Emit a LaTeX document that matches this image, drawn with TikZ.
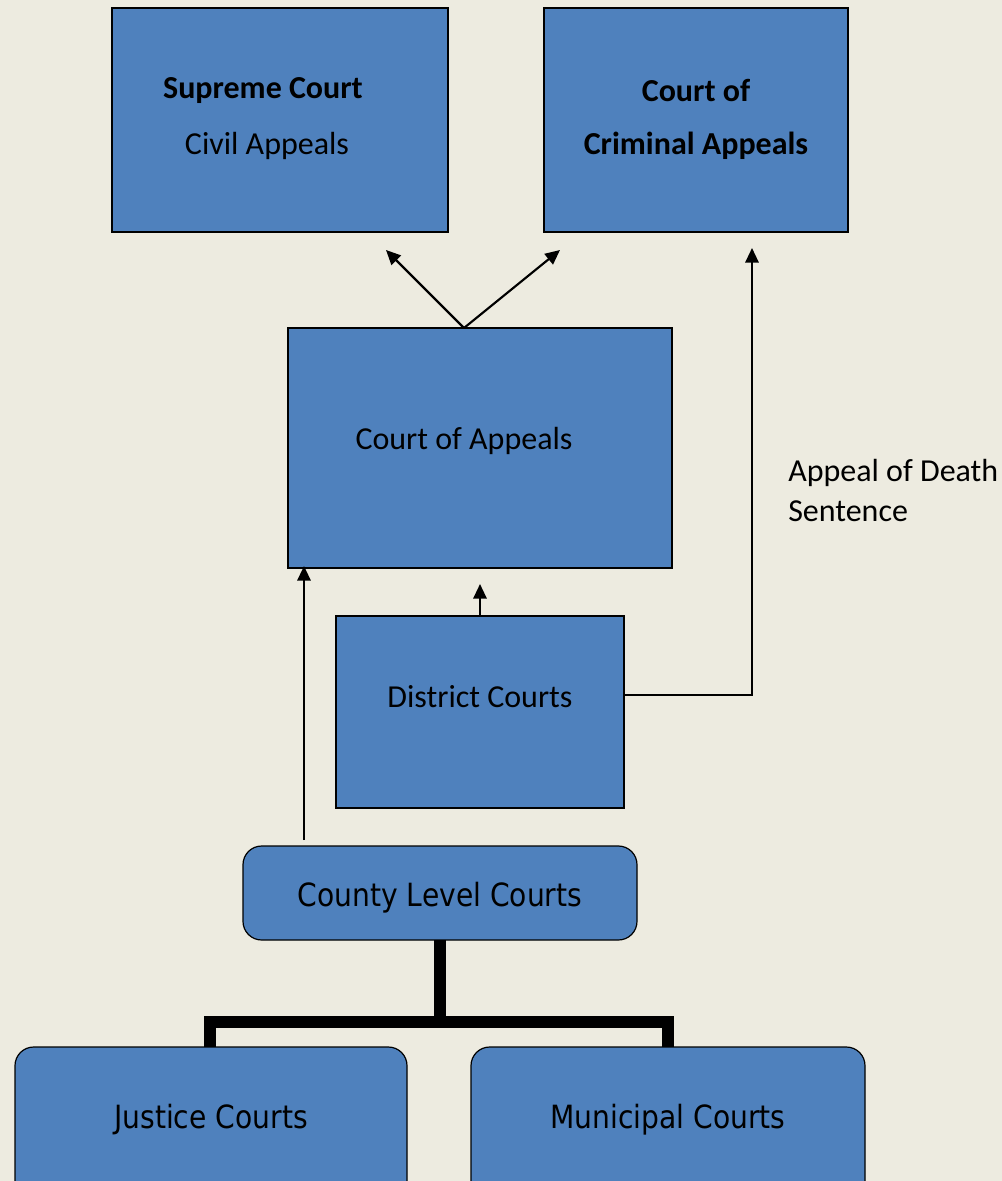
\documentclass[tikz,border=0pt]{standalone}
\usepackage{fontspec}
\setmainfont{Carlito}
\newfontfamily\tah[FakeStretch=0.88]{DejaVu Sans}
\usetikzlibrary{arrows.meta}
\definecolor{bgc}{HTML}{EDEBE0}
\definecolor{boxc}{HTML}{4F81BD}
\tikzset{
  sqbox/.style={draw=black, line width=1.5pt, fill=boxc, inner sep=0pt},
  rbox/.style={draw=black, line width=0.9pt, fill=boxc, rounded corners=14pt, inner sep=0pt},
  arr/.style={line width=1.6pt, -{Triangle[length=11pt,width=10pt]}},
  thick tree/.style={line width=9pt},
  lbl/.style={font=\fontsize{24}{28}\selectfont, inner sep=0pt},
  tlbl/.style={font=\tah\fontsize{24}{28}\selectfont, inner sep=0pt}
}
\begin{document}
\begin{tikzpicture}[x=0.75pt,y=-0.75pt]
\useasboundingbox (0,0) rectangle (1002,1181);
\fill[bgc] (0,0) rectangle (1002,1181);
% boxes
\draw[sqbox] (112,8) rectangle (448,232);
\draw[sqbox] (544,8) rectangle (848,232);
\draw[sqbox] (288,328) rectangle (672,568);
\draw[sqbox] (336,616) rectangle (624,808);
\draw[rbox] (243,846) rectangle (637,940);
\draw[rbox] (15,1047) rectangle (407,1200);
\draw[rbox] (471,1047) rectangle (865,1200);
% texts
\node[lbl] (t1) at (263,91) {\bfseries Supreme Court};
\node[lbl] (t2) at (267,146) {Civil Appeals};
\node[lbl] (t3) at (696,90) {\bfseries Court of};
\node[lbl] (t4) at (696,146) {\bfseries Criminal Appeals};
\node[lbl] (t5) at (464,441) {Court of Appeals};
\node[lbl] (t6) at (480,697) {District Courts};
\node[tlbl] (t7) at (440,898) {County Level Courts};
\node[tlbl] (t8) at (211,1120) {Justice Courts};
\node[tlbl] (t9) at (668,1120) {Municipal Courts};
\node[lbl, anchor=west] (d1) at (788,473) {Appeal of Death};
\node[lbl, anchor=west] (d2) at (788,511) {Sentence};
% connectors
\coordinate (ca) at (464,328);
\coordinate (a1) at (386,250);
\coordinate (a2) at (560,250);
\draw[arr] (ca) -- (a1);
\draw[arr] (ca) -- (a2);
\coordinate (dc) at (480,616);
\coordinate (dct) at (480,584);
\draw[arr] (dc) -- (dct);
\coordinate (cl) at (304,840);
\coordinate (clt) at (304,566);
\draw[arr] (cl) -- (clt);
\coordinate (dr) at (624,695);
\coordinate (dcorner) at (752,695);
\coordinate (dtop) at (752,248);
\draw[arr] (dr) -- (dcorner) -- (dtop);
% tree
\coordinate (cb) at (440,940);
\coordinate (tj) at (440,1022);
\draw[thick tree] (cb) -- (tj);
\draw[thick tree] (210,1047) -- (210,1022) -- (668,1022) -- (668,1047);
\end{tikzpicture}
\end{document}
